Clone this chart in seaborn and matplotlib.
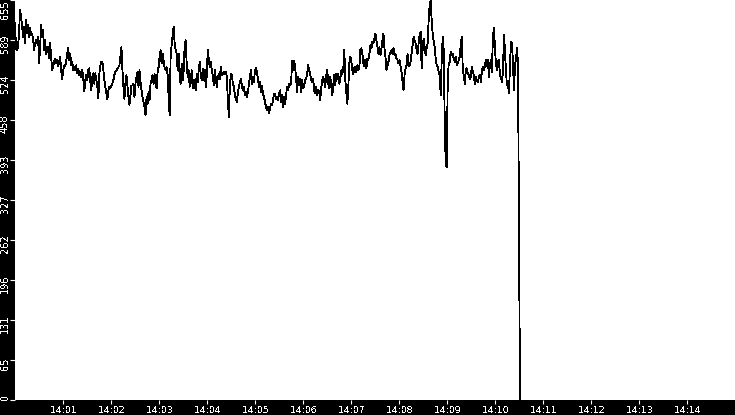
import numpy as np
import pandas as pd
import matplotlib
matplotlib.use("Agg")
import matplotlib.pyplot as plt
import matplotlib.dates as mdates
import matplotlib.transforms as mtransforms
import seaborn as sns

seg_a = [617, 576, 573, 578, 600, 639, 628, 614, 595, 611, 584, 622, 600, 614, 595, 609, 598, 600, 592, 573,
         584, 589, 584, 595, 551, 578, 614, 595, 606, 573, 589, 567, 573, 578, 559, 584, 562, 540, 546, 554,
         559, 551, 557, 546, 554, 562, 540, 526, 540, 548, 546, 554, 567, 576, 557, 567, 548, 554, 540, 546,
         540, 548, 535, 543, 532, 537, 529, 540, 526, 505, 524, 532, 524, 540, 543, 521, 507, 529, 535, 518,
         535, 524, 513, 494]
seg_b = [534, 548, 554, 554, 540, 524, 513, 502, 493, 507, 513, 510, 515, 518, 524, 532, 537, 540, 543, 545,
         548, 562, 578, 540, 513, 493, 518, 532, 513, 496, 483, 499, 515, 515, 518, 496, 518, 529, 537, 513,
         540, 521, 507, 496, 488, 480, 466, 496, 485, 504, 491, 518, 524, 532, 518, 534, 521, 510, 537, 545,
         562, 573, 551, 567, 556, 545, 540, 545, 532, 496, 466, 562, 581, 597, 611, 584, 573, 567, 540, 567,
         529, 518, 551, 524, 540]
seg_c = [581, 589, 551, 529, 540, 513, 521, 540, 510, 524, 518, 507, 534, 521, 540, 554, 534, 524, 543, 524,
         540, 513, 532, 573, 559, 545, 554, 540, 532, 515, 540, 526, 513, 529, 534, 526, 545, 532, 534, 537,
         534, 537, 529, 491, 463, 513, 534, 532, 518, 513, 499, 493, 488, 504, 513, 521, 526, 515, 507, 513,
         499, 504, 496, 504, 518, 529, 540, 518, 529, 521, 540, 543, 537, 526, 513, 521, 504, 515, 502, 496,
         488, 480, 474, 480, 469]
seg_d = [477, 485, 483, 491, 502, 502, 493, 496, 491, 502, 507, 488, 499, 480, 496, 485, 499, 513, 507, 518,
         515, 518, 556, 540, 556, 545, 526, 504, 529, 515, 526, 504, 524, 510, 515, 524, 526, 534, 548, 540,
         534, 524, 521, 526, 507, 502, 513, 499, 507, 504, 491, 510, 524, 529, 521, 513, 532, 540, 518, 510,
         529, 515, 499, 515, 532, 515, 534, 526, 534, 518, 526, 540, 534, 543, 573, 524, 504, 485, 513, 551,
         562, 554, 540, 534, 545]
seg_e = [546, 537, 548, 540, 546, 573, 576, 567, 551, 546, 557, 543, 559, 557, 567, 581, 576, 587, 584, 592,
         600, 589, 578, 567, 578, 565, 576, 589, 600, 576, 562, 540, 548, 554, 565, 570, 573, 567, 576, 565,
         567, 559, 557, 551, 557, 546, 537, 521, 507, 532, 543, 548, 567, 546, 548, 554, 567, 581, 595, 589,
         584, 573, 567, 584, 598, 603, 543, 573, 592, 578, 565, 576, 584, 622, 647, 655, 622, 600, 587, 578,
         559, 548, 546, 537, 532]
seg_f = [499, 557, 595, 573, 458, 384, 381, 525, 551, 554, 570, 565, 567, 559, 554, 562, 548, 551, 557, 562,
         584, 595, 540, 532, 518, 540, 543, 535, 532, 526, 529, 546, 537, 532, 518, 529, 524, 521, 529, 532,
         521, 537, 546, 540, 546, 557, 546, 557, 529, 548, 557, 537, 595, 609, 578, 551, 540, 554, 557, 532,
         529, 521, 537, 598, 573, 537, 516, 518, 502, 548, 587, 584, 551, 507, 548, 559, 576, 551, 265, 0]

start_time = "2000-01-01 14:00:00"
sample_seconds = 1.255
y_ticks = [0, 65.5, 131, 196.5, 262, 327.5, 393, 458.5, 524, 589.5, 655]
y_tick_labels = ["0", "65", "131", "196", "262", "327", "393", "458", "524", "589", "655"]

values = seg_a + seg_b + seg_c + seg_d + seg_e + seg_f
times = pd.date_range(start_time, periods=len(values), freq=pd.Timedelta(seconds=sample_seconds))
df = pd.DataFrame({"time": times, "value": values})

plt.rcParams["font.family"] = ["DejaVu Sans"]
plt.rcParams["text.antialiased"] = False

fig = plt.figure(figsize=(7.35, 4.15), dpi=100, facecolor="black")
ax = fig.add_axes([15 / 735, 15 / 415, 720 / 735, 400 / 415])
ax.set_facecolor("white")

sns.lineplot(data=df, x="time", y="value", ax=ax, color="black", linewidth=0.6,
             antialiased=False, estimator=None)

t0 = pd.Timestamp(start_time)
ax.set_xlim(t0, t0 + pd.Timedelta(minutes=15))
ax.set_ylim(0, 655)
ax.xaxis.set_major_locator(mdates.MinuteLocator(byminute=range(1, 15)))
ax.xaxis.set_major_formatter(mdates.DateFormatter("%H:%M"))
ax.set_yticks(y_ticks)
ax.set_yticklabels(y_tick_labels)
ax.set_xlabel("")
ax.set_ylabel("")

for s in ax.spines.values():
    s.set_visible(False)

ax.tick_params(axis="both", colors="white", labelsize=7, length=3.6, width=0.8, direction="out")
ax.tick_params(axis="x", labelsize=6.7, length=3.2, pad=0.8)
ax.tick_params(axis="y", pad=0)

labels = ax.get_yticklabels()
shift = mtransforms.ScaledTranslation(0, -0.04, fig.dpi_scale_trans)
for i, lab in enumerate(labels):
    lab.set_rotation(90)
    if i == 0:
        lab.set_va("bottom")
    elif i == len(labels) - 1:
        lab.set_va("top")
    else:
        lab.set_va("center")
        lab.set_transform(lab.get_transform() + shift)

fig.savefig("out.png", dpi=100, facecolor="black")
